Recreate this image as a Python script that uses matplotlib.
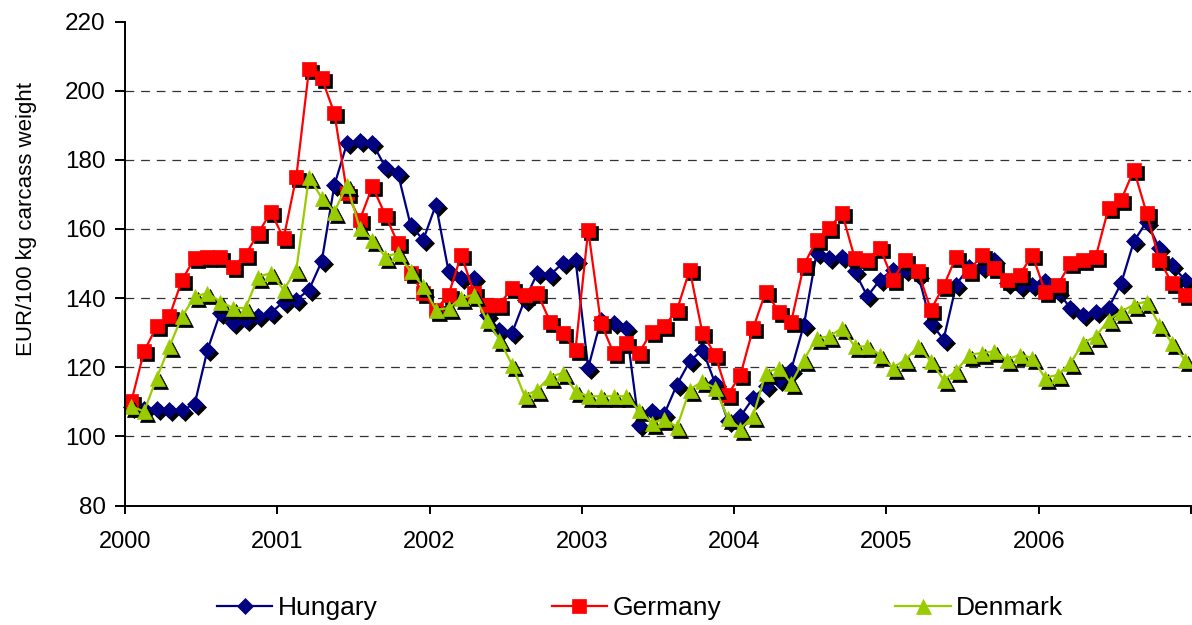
import numpy as np
import matplotlib
matplotlib.use("Agg")
import matplotlib.pyplot as plt
from matplotlib.transforms import offset_copy

plt.rcParams['font.family'] = ['Liberation Sans', 'DejaVu Sans']

# monthly prices, Jan 2000 .. Dec 2006 (EUR/100 kg carcass weight)
hungary = [
    108.5, 108, 108, 107.5, 107.5, 109.5, 125, 135.7, 132.8, 133.7, 134.7, 135.7,
    139, 139.5, 142.4, 150.6, 172.7, 184.8, 185.3, 184.8, 178, 176.1, 161.2, 156.8,
    167, 147.7, 145.8, 145.8, 135.2, 130.8, 129.9, 139.5, 147.2, 146.7, 150.1, 151.1,
    119.8, 133.7, 132.8, 131.3, 103.4, 107.2, 106.5, 115, 121.7, 125.1, 115.4, 104.5,
    105.8, 111.1, 114.5, 116.4, 119.3, 132.3, 153, 151.6, 152, 147.7, 140.5, 145.3,
    148.2, 148.2, 146.7, 132.8, 128, 143.8, 149.1, 149.1, 151.1, 144.5, 143.4, 143.8,
    144.8, 141.9, 137.1, 135.2, 136.1, 137.1, 144.3, 156.4, 162.1, 154.5, 149.6, 145.3,
]
germany = [
    110.1, 124.6, 131.8, 134.7, 145.3, 151.6, 152, 152, 149.1, 152.5, 158.8, 164.9,
    157.3, 175.1, 206.2, 203.6, 193.5, 170.3, 162.6, 172.3, 164.1, 155.9, 147.2, 141.4,
    136.6, 141, 152.5, 141.4, 138.1, 138.1, 142.9, 141, 141.4, 133.2, 129.9, 125.1,
    159.7, 132.8, 124.1, 127, 124.1, 130.3, 131.8, 136.6, 148.2, 129.9, 123.6, 112,
    117.8, 131.3, 141.9, 136.1, 133.2, 149.6, 156.8, 160.2, 164.6, 151.6, 151.1, 154.5,
    145.3, 151.1, 147.7, 136.6, 143.4, 152, 147.7, 152.5, 148.7, 145.3, 146.7, 152.5,
    141.9, 143.8, 150.1, 151.1, 152, 166, 168.4, 177.1, 164.6, 151.1, 144.3, 141,
]
denmark = [
    108.7, 107.2, 116.9, 126, 134.7, 140.5, 141.4, 139, 137.1, 137.1, 146.2, 147.2,
    142.4, 148.2, 175.1, 168.9, 165, 172.7, 160.2, 156.8, 152, 153, 147.7, 143.4,
    136.6, 137.1, 140, 141, 133.7, 128, 120.7, 111.6, 113.5, 117.3, 118.3, 113,
    111.6, 111.6, 111.6, 111.6, 107.5, 103.9, 105, 102.7, 113.5, 115.9, 114, 105.3,
    102.2, 106, 118.3, 119.8, 115.4, 122.2, 128.4, 128.9, 131.3, 126, 126, 123.6,
    119.8, 122.2, 126, 121.7, 116.4, 118.8, 123.6, 124.1, 124.6, 122.2, 123.6, 122.7,
    116.9, 117.8, 121.2, 127, 128.9, 133.7, 136.1, 138.1, 139, 132.3, 127, 122.2,
]
years = list(range(2000, 2008))
year_labels = ["2000", "2001", "2002", "2003", "2004", "2005", "2006", ""]

# mid-month positions
x = 2000 + (np.arange(len(hungary)) + 0.5) / 12.0

series = [
    ("Hungary", hungary, "#000080", "D", 7.8),
    ("Germany", germany, "#FF0000", "s", 9.4),
    ("Denmark", denmark, "#99CC00", "^", 10.8),
]

fig = plt.figure(figsize=(11.92, 6.25), dpi=100)
ax = fig.add_axes([125 / 1192, 1 - 505.5 / 625, 1066 / 1192, (505.5 - 21.5) / 625])

shadow = offset_copy(ax.transData, fig=fig, x=3, y=-3, units="dots")
for k, (name, vals, col, mk, ms) in enumerate(series):
    z = 3 + k
    ax.plot(x, vals, ls="none", marker=mk, ms=ms, mfc="black", mec="black",
            mew=0.5, transform=shadow, zorder=z, clip_on=False)
    ax.plot(x, vals, color=col, lw=1.6, marker=mk, ms=ms, mfc=col, mec=col,
            mew=0.5, label=name, zorder=z + 0.5, clip_on=False)

ax.set_xlim(2000, 2007)
ax.set_ylim(80, 220)
ax.set_yticks(range(80, 221, 20))
ax.set_xticks(years)
ax.set_xticklabels(year_labels)

for v in range(100, 201, 20):
    ax.axhline(v, color="#333333", lw=0.9, ls=(0, (7, 5.5)), zorder=1)

for s in ["top", "right"]:
    ax.spines[s].set_visible(False)
for s in ["left", "bottom"]:
    ax.spines[s].set_linewidth(1.4)
    ax.spines[s].set_zorder(10)

ax.tick_params(axis="y", direction="out", length=7, width=1.4, pad=7, labelsize=17.5)
ax.tick_params(axis="x", direction="out", length=6, width=1.4, pad=12, labelsize=17)

ax.set_ylabel("EUR/100 kg carcass weight", fontsize=16)
ax.yaxis.set_label_coords(-0.083, 0.592)

fig.legend(loc="center", bbox_to_anchor=(0.537, 0.027), ncol=3, frameon=False,
           fontsize=19, handlelength=2.1, handletextpad=0.2, columnspacing=6.6)

fig.savefig("out.png", dpi=100)
